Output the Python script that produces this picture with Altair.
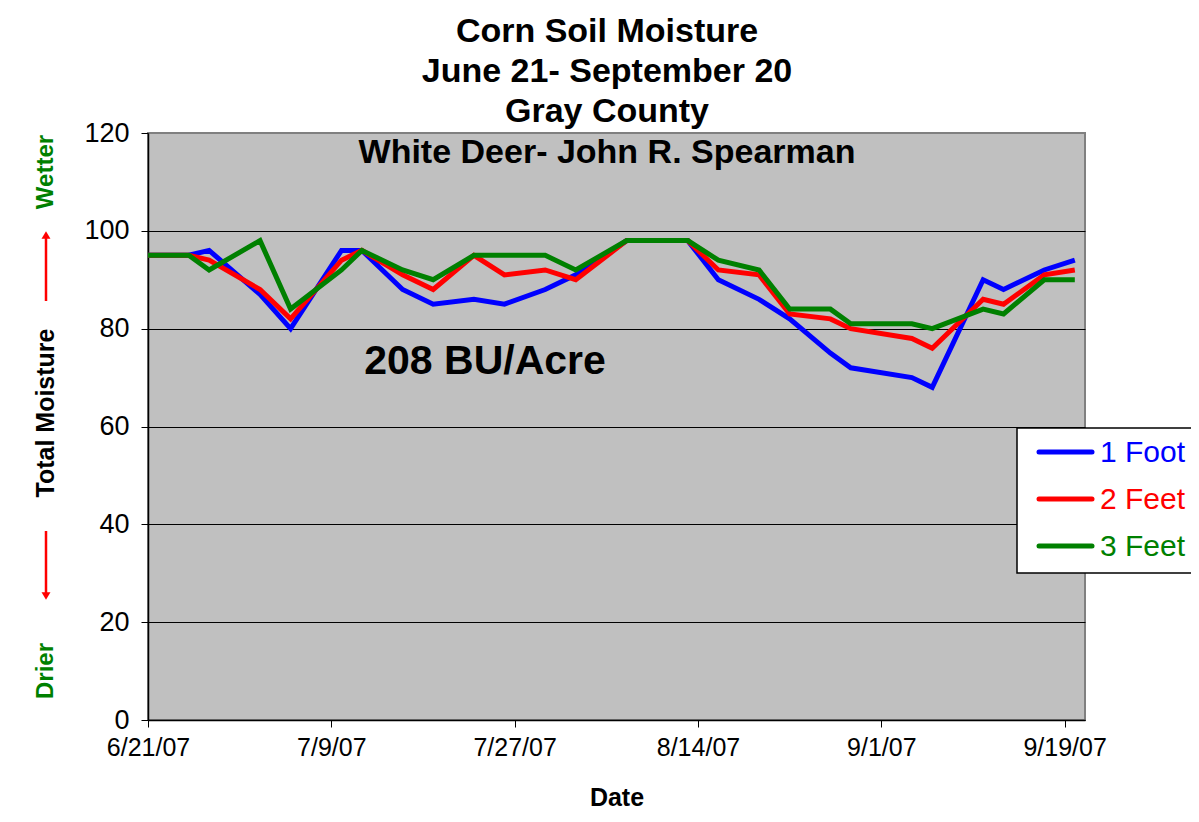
import altair as alt
import pandas as pd

# ---- data ----
dates = ["2007-06-21", "2007-06-25", "2007-06-27", "2007-07-02", "2007-07-05",
         "2007-07-10", "2007-07-12", "2007-07-16", "2007-07-19", "2007-07-23",
         "2007-07-26", "2007-07-30", "2007-08-02", "2007-08-07", "2007-08-13",
         "2007-08-16", "2007-08-20", "2007-08-23", "2007-08-27", "2007-08-29",
         "2007-09-04", "2007-09-06", "2007-09-11", "2007-09-13", "2007-09-17",
         "2007-09-20"]
foot1 = [95, 95, 96, 87, 80, 96, 96, 88, 85, 86, 85, 88, 91, 98, 98,
         90, 86, 82, 75, 72, 70, 68, 90, 88, 92, 94]
feet2 = [95, 95, 94, 88, 82, 94, 96, 91, 88, 95, 91, 92, 90, 98, 98,
         92, 91, 83, 82, 80, 78, 76, 86, 85, 91, 92]
feet3 = [95, 95, 92, 98, 84, 92, 96, 92, 90, 95, 95, 95, 92, 98, 98,
         94, 92, 84, 84, 81, 81, 80, 84, 83, 90, 90]
series = ["1 Foot", "2 Feet", "3 Feet"]
colors = ["#0000FF", "#FF0000", "#008000"]
y_ticks = [0, 20, 40, 60, 80, 100, 120]
x_ticks = [(6, 21), (7, 9), (7, 27), (8, 14), (9, 1), (9, 19)]
title_lines = ["Corn Soil Moisture", "June 21- September 20", "Gray County"]
subtitle = "White Deer- John R. Spearman"
yield_note = "208 BU/Acre"

W, H = 937, 587
FONT = "Liberation Sans"

rows = []
for name, vals in zip(series, [foot1, feet2, feet3]):
    for d, v in zip(dates, vals):
        rows.append({"date": d, "value": v, "series": name})
df = pd.DataFrame(rows)

x_enc = alt.X(
    "date:T",
    scale=alt.Scale(type="utc",
                    domain=[alt.DateTime(year=2007, month=6, date=21, utc=True),
                            alt.DateTime(year=2007, month=9, date=21, utc=True)]),
    axis=alt.Axis(
        values=[alt.DateTime(year=2007, month=m, date=d, utc=True) for m, d in x_ticks],
        labelExpr="utcFormat(datum.value, '%-m/%-d/%y')",
        labelFont=FONT, labelFontSize=25, labelColor="black",
        labelPadding=8, tickSize=7, tickColor="black", domainColor="black",
        domainWidth=1.5, grid=False, title=None, labelFlush=False,
        labelOverlap=False),
)
y_enc = alt.Y(
    "value:Q",
    scale=alt.Scale(domain=[0, 120]),
    axis=alt.Axis(
        values=y_ticks, labelFont=FONT, labelFontSize=27, labelColor="black",
        labelPadding=12, tickSize=7, tickColor="black", domainColor="black",
        domainWidth=1.5,
        gridColor={"condition": {"test": "datum.value == 120", "value": "#808080"},
                   "value": "black"},
        gridWidth=1, title=None),
)

lines = alt.Chart(df).mark_line(strokeWidth=5, strokeJoin="miter").encode(
    x=x_enc, y=y_enc,
    color=alt.Color("series:N", scale=alt.Scale(domain=series, range=colors), legend=None),
)


def text_layer(txt, x, y, size, color="black", bold=True, angle=0, align="center", font=FONT):
    return alt.Chart(pd.DataFrame({"t": [txt]})).mark_text(
        fontSize=size, font=font, fontWeight="bold" if bold else "normal",
        color=color, angle=angle, align=align, baseline="middle",
    ).encode(text="t:N", x=alt.value(x), y=alt.value(y))


layers = []

# outer frame of the chart (top/left edges visible)
frame = alt.Chart(pd.DataFrame({"a": [0]})).mark_rect(
    fill=None, stroke="black", strokeWidth=2).encode(
    x=alt.value(-144), x2=alt.value(1150), y=alt.value(-130), y2=alt.value(800))
layers.append(frame)

layers.append(lines)

# titles
for i, t in enumerate(title_lines):
    layers.append(text_layer(t, 459, -101 + 40 * i, 34))
layers.append(text_layer(subtitle, 459, 20, 34))
layers.append(text_layer(yield_note, 337, 229, 41))

# y side annotations
layers.append(text_layer("Wetter", -102, 39, 24, color="#008000", angle=270))
layers.append(text_layer("Total Moisture", -102, 280, 25, angle=270))
layers.append(text_layer("Drier", -102, 538, 24, color="#008000", angle=270))
layers.append(text_layer("Date", 469, 665, 25))

# red arrows
arrow_df = pd.DataFrame({"a": [0]})
layers.append(alt.Chart(arrow_df).mark_rule(color="red", strokeWidth=2.5).encode(
    x=alt.value(-102), y=alt.value(104), y2=alt.value(168)))
layers.append(alt.Chart(arrow_df).mark_rule(color="red", strokeWidth=2.5).encode(
    x=alt.value(-102), y=alt.value(398), y2=alt.value(461)))
layers.append(alt.Chart(arrow_df).mark_point(shape="triangle-up", filled=True, color="red",
                                             size=80, opacity=1).encode(
    x=alt.value(-102), y=alt.value(102)))
layers.append(alt.Chart(arrow_df).mark_point(shape="triangle-down", filled=True, color="red",
                                             size=80, opacity=1).encode(
    x=alt.value(-102), y=alt.value(463)))

# legend box
layers.append(alt.Chart(pd.DataFrame({"a": [0]})).mark_rect(
    fill="white", stroke="black", strokeWidth=1.5).encode(
    x=alt.value(869), x2=alt.value(1100), y=alt.value(295), y2=alt.value(440)))
for i, (name, col) in enumerate(zip(series, colors)):
    yy = 319 + 47 * i
    layers.append(alt.Chart(pd.DataFrame({"a": [0]})).mark_rule(
        color=col, strokeWidth=5, strokeCap="round").encode(
        x=alt.value(891), x2=alt.value(944), y=alt.value(yy)))
    layers.append(text_layer(name, 952, yy + 1, 30, color=col, bold=False, align="left"))

chart = alt.layer(*layers).properties(
    width=W, height=H,
    autosize=alt.AutoSizeParams(type="none"),
    padding={"left": 140, "top": 125, "right": 106, "bottom": 94},
    background="white",
).configure_view(fill="#C0C0C0", stroke="#808080", strokeWidth=2)

chart.save("out.html", embed_options={"renderer": "svg", "actions": False})
